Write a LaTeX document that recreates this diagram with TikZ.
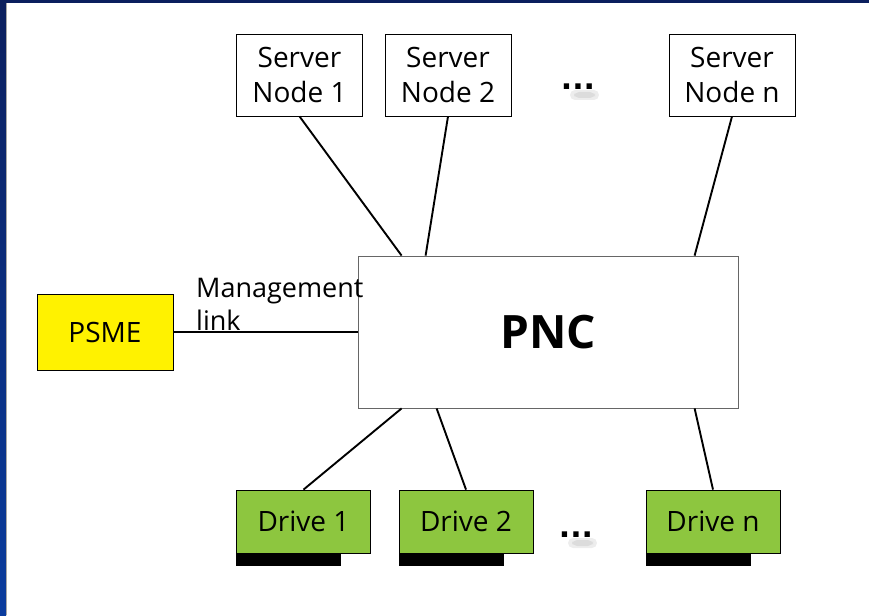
\documentclass[tikz,border=0pt]{standalone}
\usepackage{fontspec}
\setmainfont{Open Sans}
\newfontfamily\dotsfont{DejaVu Sans}
\definecolor{framenavy}{HTML}{0B1F5E}
\definecolor{framebottom}{HTML}{0A3C9E}
\definecolor{drivegreen}{HTML}{8DC63F}
\tikzset{box/.style={draw, fill=white, line width=0.8pt, inner sep=0pt, align=center, font=\fontsize{28}{35}\selectfont}}
\tikzset{server/.style={box, minimum width=126pt, minimum height=82pt}}
\tikzset{drive/.style={box, fill=drivegreen, minimum width=134pt, minimum height=63pt}}
\tikzset{wire/.style={line width=1.9pt}}
\tikzset{dotstyle/.style={font=\dotsfont\bfseries\fontsize{30}{34}\selectfont}}
\tikzset{blur/.style={fill=black, opacity=0.07, rounded corners=5pt}}

\begin{document}
\begin{tikzpicture}[x=1pt, y=-1pt, every node/.style={inner sep=0pt}]
			\useasboundingbox (0,0) rectangle (869,615);
			\fill[white] (0,0) rectangle (869,615);
			\shade[top color=framenavy, bottom color=framebottom] (0,0) rectangle (6,615);
			\fill[gray!70] (6,3) rectangle (7.2,615);
			\fill[framenavy] (0,0) rectangle (869,3);
			
			\node[server] (sn1) at (299.5,75) {Server\\Node 1};
			\node[server] (sn2) at (448,75) {Server\\Node 2};
			\node[server] (snn) at (732,75) {Server\\Node n};
			\node[dotstyle] (sdots) at (578,87) {...};
			
			\node[box, draw=black!60, minimum width=380pt, minimum height=152pt, font=\bfseries\fontsize{46}{50}\selectfont] (pnc) at (548,332) {PNC};
			\node[box, fill=yellow, minimum width=136pt, minimum height=76pt] (psme) at (105,332) {PSME};
			\node[align=left, anchor=north west, font=\fontsize{27}{33}\selectfont] (mlabel) at (196,278.5) {Management\\link};
			
			\node[drive] (d1) at (303.5,521.5) {Drive 1};
			\node[drive] (d2) at (466,521.5) {Drive 2};
			\node[drive] (dn) at (713,521.5) {Drive n};
			\node[dotstyle] (ddots) at (576,535) {...};
			
			% soft shadows under the dots
			\foreach \d in {sdots, ddots} {
				\fill[blur] ([shift={(-8,3)}]\d.center) rectangle ([shift={(21,13)}]\d.center);
				\fill[blur] ([shift={(-4,5)}]\d.center) rectangle ([shift={(17,11)}]\d.center);
			}
			
			\fill (d1.south west) rectangle ++(105,13);
			\fill (d2.south west) rectangle ++(105,13);
			\fill (dn.south west) rectangle ++(105,13);
			
			\draw[wire] (sn1.south) -- ([xshift=44pt]pnc.north west);
			\draw[wire] (sn2.south) -- ([xshift=68pt]pnc.north west);
			\draw[wire] (snn.south) -- ([xshift=337pt]pnc.north west);
			\draw[wire] ([xshift=44pt]pnc.south west) -- (d1.north);
			\draw[wire] ([xshift=79pt]pnc.south west) -- (d2.north);
			\draw[wire] ([xshift=337pt]pnc.south west) -- (dn.north);
			\draw[wire] (psme.east) -- (pnc.west);
			
		\end{tikzpicture}
\end{document}
